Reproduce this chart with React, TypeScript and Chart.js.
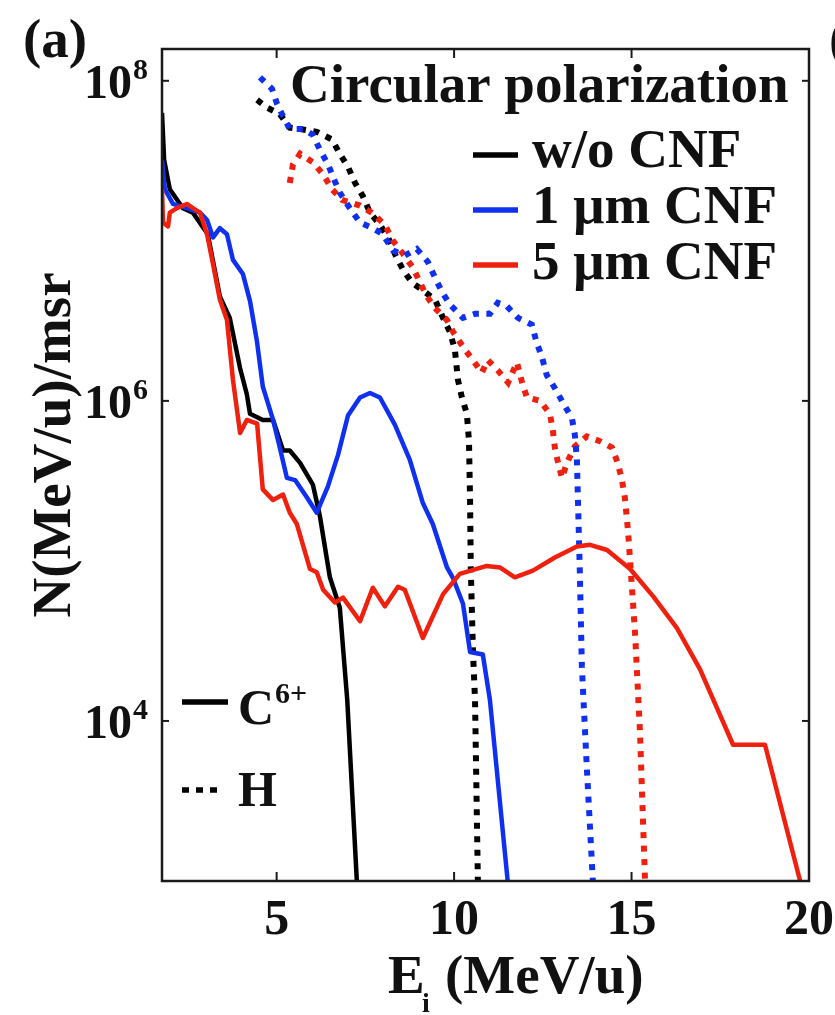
import React, { useEffect, useRef } from 'react';
import { Chart, registerables } from 'chart.js';

Chart.register(...registerables);

// ---------- data (E in MeV/u, N in 1/(MeV/u)/msr) ----------
// C6+ (solid lines)
const cE_wo = [1.77, 1.83, 1.99, 2.36, 2.64, 3.06, 3.4, 3.68, 3.97, 4.16, 4.25, 4.61, 4.9, 5.18, 5.37, 5.66, 6.02, 6.22, 6.5, 6.78, 6.99, 7.26];
const cN_wo = [6.3e7, 3.2e7, 2.1e7, 1.6e7, 1.5e7, 1.1e7, 4.5e6, 3.3e6, 1.6e6, 1.1e6, 8.3e5, 7.6e5, 7.6e5, 4.9e5, 4.9e5, 4.1e5, 3.0e5, 1.9e5, 7.9e4, 5.1e4, 1.35e4, 1.0e3];

const cE_1um = [1.77, 1.85, 2.08, 2.47, 2.84, 3.04, 3.21, 3.4, 3.6, 3.77, 4.05, 4.25, 4.44, 4.61, 4.9, 5.09, 5.29, 5.52, 5.85, 6.13, 6.44, 6.73, 7.01, 7.35, 7.63, 7.91, 8.33, 8.75, 9.12, 9.4, 9.8, 9.97, 10.25, 10.45, 10.81, 11.01, 11.51];
const cN_1um = [3.2e7, 2.1e7, 1.7e7, 1.6e7, 1.5e7, 1.35e7, 1.05e7, 1.2e7, 1.1e7, 7.6e6, 6.2e6, 4.2e6, 2.4e6, 1.23e6, 7.6e5, 5.1e5, 3.3e5, 3.2e5, 2.5e5, 2.0e5, 2.9e5, 4.6e5, 8.1e5, 1.05e6, 1.12e6, 1.05e6, 7.1e5, 4.3e5, 2.3e5, 1.7e5, 9.1e4, 7.8e4, 5.4e4, 2.7e4, 2.6e4, 1.35e4, 1.0e3];

const cE_5um = [1.77, 1.8, 1.94, 1.99, 2.19, 2.47, 2.64, 2.84, 3.04, 3.21, 3.4, 3.6, 3.77, 3.97, 4.16, 4.45, 4.61, 4.9, 5.18, 5.37, 5.57, 5.94, 6.13, 6.31, 6.64, 6.87, 7.35, 7.71, 8.05, 8.42, 8.61, 9.12, 9.69, 10.16, 10.92, 11.29, 11.71, 12.22, 12.84, 13.46, 13.83, 14.31, 14.96, 15.61, 16.28, 16.93, 17.86, 18.76, 19.75];
const cN_5um = [2.1e7, 1.3e7, 1.23e7, 1.5e7, 1.6e7, 1.7e7, 1.6e7, 1.5e7, 1.1e7, 7.1e6, 4.3e6, 3.2e6, 1.35e6, 6.3e5, 7.6e5, 7.2e5, 2.8e5, 2.4e5, 2.6e5, 2.0e5, 1.7e5, 8.9e4, 8.5e4, 6.6e4, 5.5e4, 5.9e4, 4.2e4, 6.8e4, 5.2e4, 6.9e4, 6.6e4, 3.3e4, 6.2e4, 8.3e4, 9.3e4, 9.1e4, 7.9e4, 8.7e4, 1.05e5, 1.23e5, 1.26e5, 1.17e5, 8.9e4, 6.0e4, 3.8e4, 2.1e4, 7.1e3, 7.1e3, 1.0e3];

// H (dotted lines)
const hE_wo = [4.45, 4.73, 5.09, 5.37, 5.66, 6.13, 6.56, 6.78, 7.01, 7.21, 7.43, 7.63, 7.91, 8.14, 8.33, 8.56, 8.81, 9.12, 9.46, 9.69, 9.88, 10.02, 10.11, 10.22, 10.36, 10.42, 10.45, 10.47, 10.53, 10.59, 10.67];
const hN_wo = [7.6e7, 6.8e7, 6.2e7, 5.1e7, 5.0e7, 4.8e7, 4.3e7, 3.5e7, 2.9e7, 2.3e7, 1.9e7, 1.5e7, 1.26e7, 1.05e7, 8.3e6, 6.6e6, 5.5e6, 4.9e6, 4.3e6, 3.3e6, 2.7e6, 2.1e6, 1.35e6, 1.05e6, 8.3e5, 5.6e5, 2.4e5, 9.1e4, 2.8e4, 1.35e4, 1.0e3];

const hE_1um = [4.53, 4.87, 5.01, 5.15, 5.37, 5.74, 6.02, 6.22, 6.45, 6.59, 6.78, 7.06, 7.35, 7.71, 7.99, 8.28, 8.61, 8.95, 9.26, 9.46, 9.66, 9.88, 10.25, 10.59, 11.01, 11.23, 11.49, 11.8, 12.19, 12.33, 12.47, 12.61, 12.84, 13.06, 13.32, 13.4, 13.46, 13.49, 13.54, 13.6, 13.74, 13.91];
const hN_1um = [1.05e8, 8.9e7, 7.2e7, 6.2e7, 5.0e7, 5.0e7, 4.6e7, 3.7e7, 3.0e7, 2.5e7, 2.0e7, 1.6e7, 1.3e7, 1.2e7, 1.1e7, 8.7e6, 8.1e6, 8.9e6, 7.4e6, 5.9e6, 4.8e6, 4.0e6, 3.3e6, 3.5e6, 3.5e6, 4.1e6, 3.9e6, 3.3e6, 3.0e6, 2.3e6, 1.9e6, 1.45e6, 1.2e6, 9.8e5, 7.8e5, 6.2e5, 4.3e5, 2.4e5, 9.1e4, 2.2e4, 5.1e3, 1.0e3];

const hE_5um = [5.37, 5.46, 5.66, 6.02, 6.31, 6.56, 6.84, 7.35, 7.68, 8.05, 8.28, 8.56, 8.84, 9.04, 9.23, 9.46, 9.8, 9.97, 10.3, 10.53, 10.78, 10.95, 11.23, 11.52, 11.77, 11.91, 12.05, 12.42, 12.7, 12.78, 12.84, 12.92, 13.04, 13.18, 13.4, 13.74, 14.11, 14.45, 14.61, 14.73, 14.81, 14.9, 14.96, 15.1, 15.24, 15.38];
const hN_5um = [2.3e7, 3.0e7, 3.5e7, 3.1e7, 2.6e7, 2.1e7, 1.8e7, 1.66e7, 1.5e7, 1.26e7, 1.0e7, 8.3e6, 6.8e6, 5.5e6, 4.5e6, 3.8e6, 3.2e6, 2.7e6, 2.1e6, 1.8e6, 1.5e6, 1.8e6, 1.55e6, 1.3e6, 1.74e6, 1.32e6, 1.05e6, 1.0e6, 8.3e5, 6.6e5, 5.1e5, 4.2e5, 3.3e5, 4.1e5, 5.2e5, 6.0e5, 5.6e5, 5.1e5, 4.1e5, 3.2e5, 2.5e5, 1.55e5, 1.0e5, 3.5e4, 8.3e3, 1.0e3];

// axes / labels
const xMin = 1.77;
const xMax = 20;
const yMin = 1e3;
const yMax = 1.58e8;
const xTickValues = [5, 10, 15, 20];
const yTickExponents = [4, 6, 8];
const seriesLabels = ['w/o CNF', '1 \u03bcm CNF', '5 \u03bcm CNF'];
const seriesColors = ['#000000', '#1030f0', '#f0200f'];
const legendTitle = 'Circular polarization';
const speciesLabels = ['C', 'H'];
const panelLabel = '(a)';
const nextPanelLabel = '(b)';

const SERIF = '"Liberation Serif", "Times New Roman", serif';

const pts = (xs: number[], ys: number[]) => xs.map((x, i) => ({ x, y: ys[i] }));

const overlay = {
  id: 'overlay',
  afterDraw(chart: any) {
    const { ctx, chartArea: a } = chart;
    const xs = chart.scales.x;
    const ys = chart.scales.y;
    const line = (x1: number, y1: number, x2: number, y2: number) => {
      ctx.beginPath();
      ctx.moveTo(x1, y1);
      ctx.lineTo(x2, y2);
      ctx.stroke();
    };
    ctx.save();
    // frame
    ctx.strokeStyle = '#1a1a1a';
    ctx.lineWidth = 2.5;
    ctx.setLineDash([]);
    ctx.strokeRect(a.left, a.top, a.right - a.left, a.bottom - a.top);
    // ticks (inward)
    ctx.lineWidth = 2;
    xTickValues.forEach((v) => {
      const px = xs.getPixelForValue(v);
      line(px, a.bottom, px, a.bottom - 9);
      line(px, a.top, px, a.top + 9);
    });
    yTickExponents.forEach((e) => {
      const py = ys.getPixelForValue(Math.pow(10, e));
      line(a.left, py, a.left + 7, py);
      line(a.right, py, a.right - 7, py);
    });
    ctx.fillStyle = '#111';
    ctx.textBaseline = 'alphabetic';
    // x tick labels
    ctx.font = `bold 50px ${SERIF}`;
    ctx.textAlign = 'center';
    xTickValues.forEach((v) => {
      const px = xs.getPixelForValue(v);
      ctx.fillText(String(v), px, 934);
    });
    // y tick labels 10^n
    ctx.textAlign = 'left';
    yTickExponents.forEach((e) => {
      const py = ys.getPixelForValue(Math.pow(10, e));
      ctx.font = `bold 30px ${SERIF}`;
      const w2 = ctx.measureText(String(e)).width;
      ctx.font = `bold 48px ${SERIF}`;
      const w1 = ctx.measureText('10').width;
      const right = 148;
      ctx.fillText('10', right - w2 - w1 - 1, py + 17);
      ctx.font = `bold 30px ${SERIF}`;
      ctx.fillText(String(e), right - w2, py - 2);
    });
    // x title: E_i (MeV/u)
    ctx.font = `bold 55px ${SERIF}`;
    ctx.fillText('E', 388, 993);
    ctx.font = `bold 28px ${SERIF}`;
    ctx.fillText('i', 422, 1012);
    ctx.font = `bold 55px ${SERIF}`;
    ctx.fillText('(MeV/u)', 445, 993);
    // y title
    ctx.save();
    ctx.translate(70, 445);
    ctx.rotate(-Math.PI / 2);
    ctx.textAlign = 'center';
    ctx.fillText('N(MeV/u)/msr', 0, 0);
    ctx.restore();
    // panel labels
    ctx.textAlign = 'left';
    ctx.fillText(panelLabel, 23, 57);
    ctx.fillText(nextPanelLabel, 829, 57);
    // legend
    ctx.fillText(legendTitle, 290, 102);
    const lineYs = [155, 210, 265];
    const baseYs = [167, 223, 279];
    seriesLabels.forEach((lab, i) => {
      ctx.strokeStyle = seriesColors[i];
      ctx.lineWidth = 5.5;
      line(473, lineYs[i], 518, lineYs[i]);
      ctx.fillStyle = '#111';
      ctx.fillText(lab, 532, baseYs[i]);
    });
    // species legend
    ctx.strokeStyle = '#000';
    ctx.lineWidth = 5.5;
    line(182, 702, 228, 702);
    ctx.font = `bold 50px ${SERIF}`;
    ctx.fillText(speciesLabels[0], 238, 724);
    const cw = ctx.measureText(speciesLabels[0]).width;
    ctx.font = `bold 30px ${SERIF}`;
    ctx.fillText('6+', 238 + cw + 1, 703);
    ctx.setLineDash([7, 7]);
    line(182, 790, 224, 790);
    ctx.setLineDash([]);
    ctx.font = `bold 50px ${SERIF}`;
    ctx.fillText(speciesLabels[1], 238, 806);
    ctx.restore();
  },
};

export default function App() {
  const ref = useRef<HTMLCanvasElement>(null);
  useEffect(() => {
    if (!ref.current) return;
    const solid = (label: string, data: any, color: string) => ({
      label,
      data,
      borderColor: color,
      backgroundColor: color,
      borderWidth: 4.5,
      pointRadius: 0,
      tension: 0,
      fill: false,
      borderJoinStyle: 'round' as const,
    });
    const dotted = (label: string, data: any, color: string) => ({
      label,
      data,
      borderColor: color,
      backgroundColor: color,
      borderWidth: 6,
      borderDash: [6, 7.5],
      borderCapStyle: 'butt' as const,
      pointRadius: 0,
      tension: 0,
      fill: false,
    });
    const chart = new Chart(ref.current, {
      type: 'line',
      data: {
        datasets: [
          solid('C6+ ' + seriesLabels[2], pts(cE_5um, cN_5um), seriesColors[2]),
          solid('C6+ ' + seriesLabels[1], pts(cE_1um, cN_1um), seriesColors[1]),
          solid('C6+ ' + seriesLabels[0], pts(cE_wo, cN_wo), seriesColors[0]),
          dotted('H ' + seriesLabels[1], pts(hE_1um, hN_1um), seriesColors[1]),
          dotted('H ' + seriesLabels[2], pts(hE_5um, hN_5um), seriesColors[2]),
          dotted('H ' + seriesLabels[0], pts(hE_wo, hN_wo), seriesColors[0]),
        ],
      },
      options: {
        responsive: false,
        animation: false,
        parsing: true,
        layout: { padding: { left: 162, right: 26, top: 49, bottom: 134 } },
        scales: {
          x: { type: 'linear', min: xMin, max: xMax, display: false },
          y: { type: 'logarithmic', min: yMin, max: yMax, display: false },
        },
        plugins: { legend: { display: false }, tooltip: { enabled: false } },
      },
      plugins: [overlay],
    });
    return () => chart.destroy();
  }, []);
  return (
    <div style={{ position: 'absolute', left: 0, top: 0, width: 835, height: 1015, background: '#fff' }}>
      <canvas ref={ref} width={835} height={1015} style={{ display: 'block' }} />
    </div>
  );
}
